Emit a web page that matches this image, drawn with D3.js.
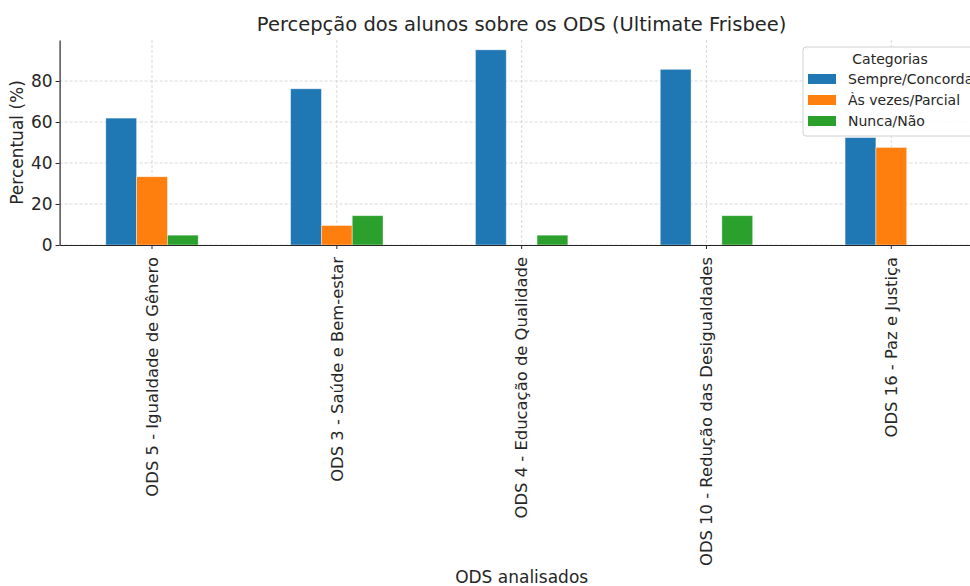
<!DOCTYPE html>
<html>
<head>
<meta charset="utf-8">
<script src="https://cdn.jsdelivr.net/npm/d3@7"></script>
<style>
  body { margin: 0; background: #fff; }
  text { font-family: 'DejaVu Sans', sans-serif; fill: #262626; }
</style>
</head>
<body>
<div id="chart"></div>
<script>
var chart_width = 970
var chart_height = 586

var categories = [
  'ODS 5 - Igualdade de Gênero',
  'ODS 3 - Saúde e Bem-estar',
  'ODS 4 - Educação de Qualidade',
  'ODS 10 - Redução das Desigualdades',
  'ODS 16 - Paz e Justiça'
]
var series_names = ['Sempre/Concorda', 'Às vezes/Parcial', 'Nunca/Não']
var sempre = [61.9, 76.2, 95.2, 85.7, 52.4]
var as_vezes = [33.3, 9.5, 0, 0, 47.6]
var nunca = [4.8, 14.3, 4.8, 14.3, 0]
var y_ticks = [0, 20, 40, 60, 80]
var colors = ['#1f77b4', '#ff7f0e', '#2ca02c']

var series = [sempre, as_vezes, nunca]

var plot_left = 59.6, plot_right = 983.7, plot_top = 40, plot_bottom = 245

var svg = d3.select('#chart')
  .append('svg')
  .attr('width', chart_width)
  .attr('height', chart_height)

// scales
var x_scale = d3.scaleBand()
  .domain(categories)
  .range([plot_left, plot_right])

var x_inner = d3.scaleBand()
  .domain(series_names)
  .range([x_scale.bandwidth() * 0.25, x_scale.bandwidth() * 0.75])

var y_scale = d3.scaleLinear()
  .domain([0, 100])
  .range([plot_bottom, plot_top])

// grid
svg.append('g')
  .selectAll('line')
  .data(y_ticks)
  .join('line')
  .attr('x1', plot_left).attr('x2', plot_right)
  .attr('y1', d => y_scale(d)).attr('y2', d => y_scale(d))
  .attr('stroke', '#cfcfcf')
  .attr('stroke-width', 0.8)
  .attr('stroke-dasharray', '3,2')

svg.append('g')
  .selectAll('line')
  .data(categories)
  .join('line')
  .attr('x1', d => x_scale(d) + x_scale.bandwidth() / 2)
  .attr('x2', d => x_scale(d) + x_scale.bandwidth() / 2)
  .attr('y1', plot_top).attr('y2', plot_bottom)
  .attr('stroke', '#cfcfcf')
  .attr('stroke-width', 0.8)
  .attr('stroke-dasharray', '3,2')

// bars
series.forEach(function(vals, si) {
  svg.append('g')
    .selectAll('rect')
    .data(vals)
    .join('rect')
    .attr('x', (d, i) => x_scale(categories[i]) + x_inner(series_names[si]))
    .attr('y', d => y_scale(d))
    .attr('width', x_inner.bandwidth())
    .attr('height', d => plot_bottom - y_scale(d))
    .attr('fill', colors[si])
    .attr('stroke', d => d > 0 ? '#ffffff' : 'none')
    .attr('stroke-opacity', 0.5)
    .attr('stroke-width', 0.8)
})

// axes
var x_axis = d3.axisBottom(x_scale).tickSize(4).tickSizeOuter(0)
var gx = svg.append('g')
  .attr('transform', 'translate(0,' + plot_bottom + ')')
  .call(x_axis)
gx.select('.domain').attr('stroke', '#262626').attr('stroke-width', 1.2)
gx.selectAll('.tick line').attr('stroke', '#262626')
gx.selectAll('.tick text')
  .attr('font-size', 16.4)
  .attr('font-family', 'DejaVu Sans')
  .attr('fill', '#262626')
  .attr('transform', 'rotate(-90)')
  .attr('text-anchor', 'end')
  .attr('x', -12)
  .attr('y', 0)
  .attr('dy', '0.35em')

var y_axis = d3.axisLeft(y_scale).tickValues(y_ticks).tickSize(4).tickSizeOuter(0)
var gy = svg.append('g')
  .attr('transform', 'translate(' + plot_left + ',0)')
  .call(y_axis)
gy.select('.domain').attr('stroke', '#262626').attr('stroke-width', 1.2)
gy.selectAll('.tick line').attr('stroke', '#262626')
gy.selectAll('.tick text')
  .attr('font-size', 17)
  .attr('font-family', 'DejaVu Sans')
  .attr('fill', '#262626')
  .attr('x', -7)

// titles
svg.append('text')
  .attr('x', (plot_left + plot_right) / 2)
  .attr('y', 31)
  .attr('text-anchor', 'middle')
  .attr('font-size', 19.5)
  .text('Percepção dos alunos sobre os ODS (Ultimate Frisbee)')

svg.append('text')
  .attr('x', (plot_left + plot_right) / 2)
  .attr('y', 583)
  .attr('text-anchor', 'middle')
  .attr('font-size', 17)
  .text('ODS analisados')

svg.append('text')
  .attr('transform', 'translate(23,' + (plot_top + plot_bottom) / 2 + ') rotate(-90)')
  .attr('text-anchor', 'middle')
  .attr('font-size', 17)
  .text('Percentual (%)')

// legend
var legend = svg.append('g').attr('transform', 'translate(803,47)')
legend.append('rect')
  .attr('width', 200).attr('height', 89)
  .attr('rx', 3)
  .attr('fill', '#ffffff').attr('fill-opacity', 0.85)
  .attr('stroke', '#d0d0d0')
legend.append('text')
  .attr('x', 87).attr('y', 17)
  .attr('text-anchor', 'middle')
  .attr('font-size', 14)
  .text('Categorias')
var items = legend.selectAll('g.item')
  .data(series_names)
  .join('g')
  .attr('class', 'item')
  .attr('transform', (d, i) => 'translate(5,' + (27 + i * 21) + ')')
items.append('rect')
  .attr('width', 28).attr('height', 10)
  .attr('fill', (d, i) => colors[i])
items.append('text')
  .attr('x', 40).attr('y', 10)
  .attr('font-size', 14)
  .text(d => d)
</script>
</body>
</html>
